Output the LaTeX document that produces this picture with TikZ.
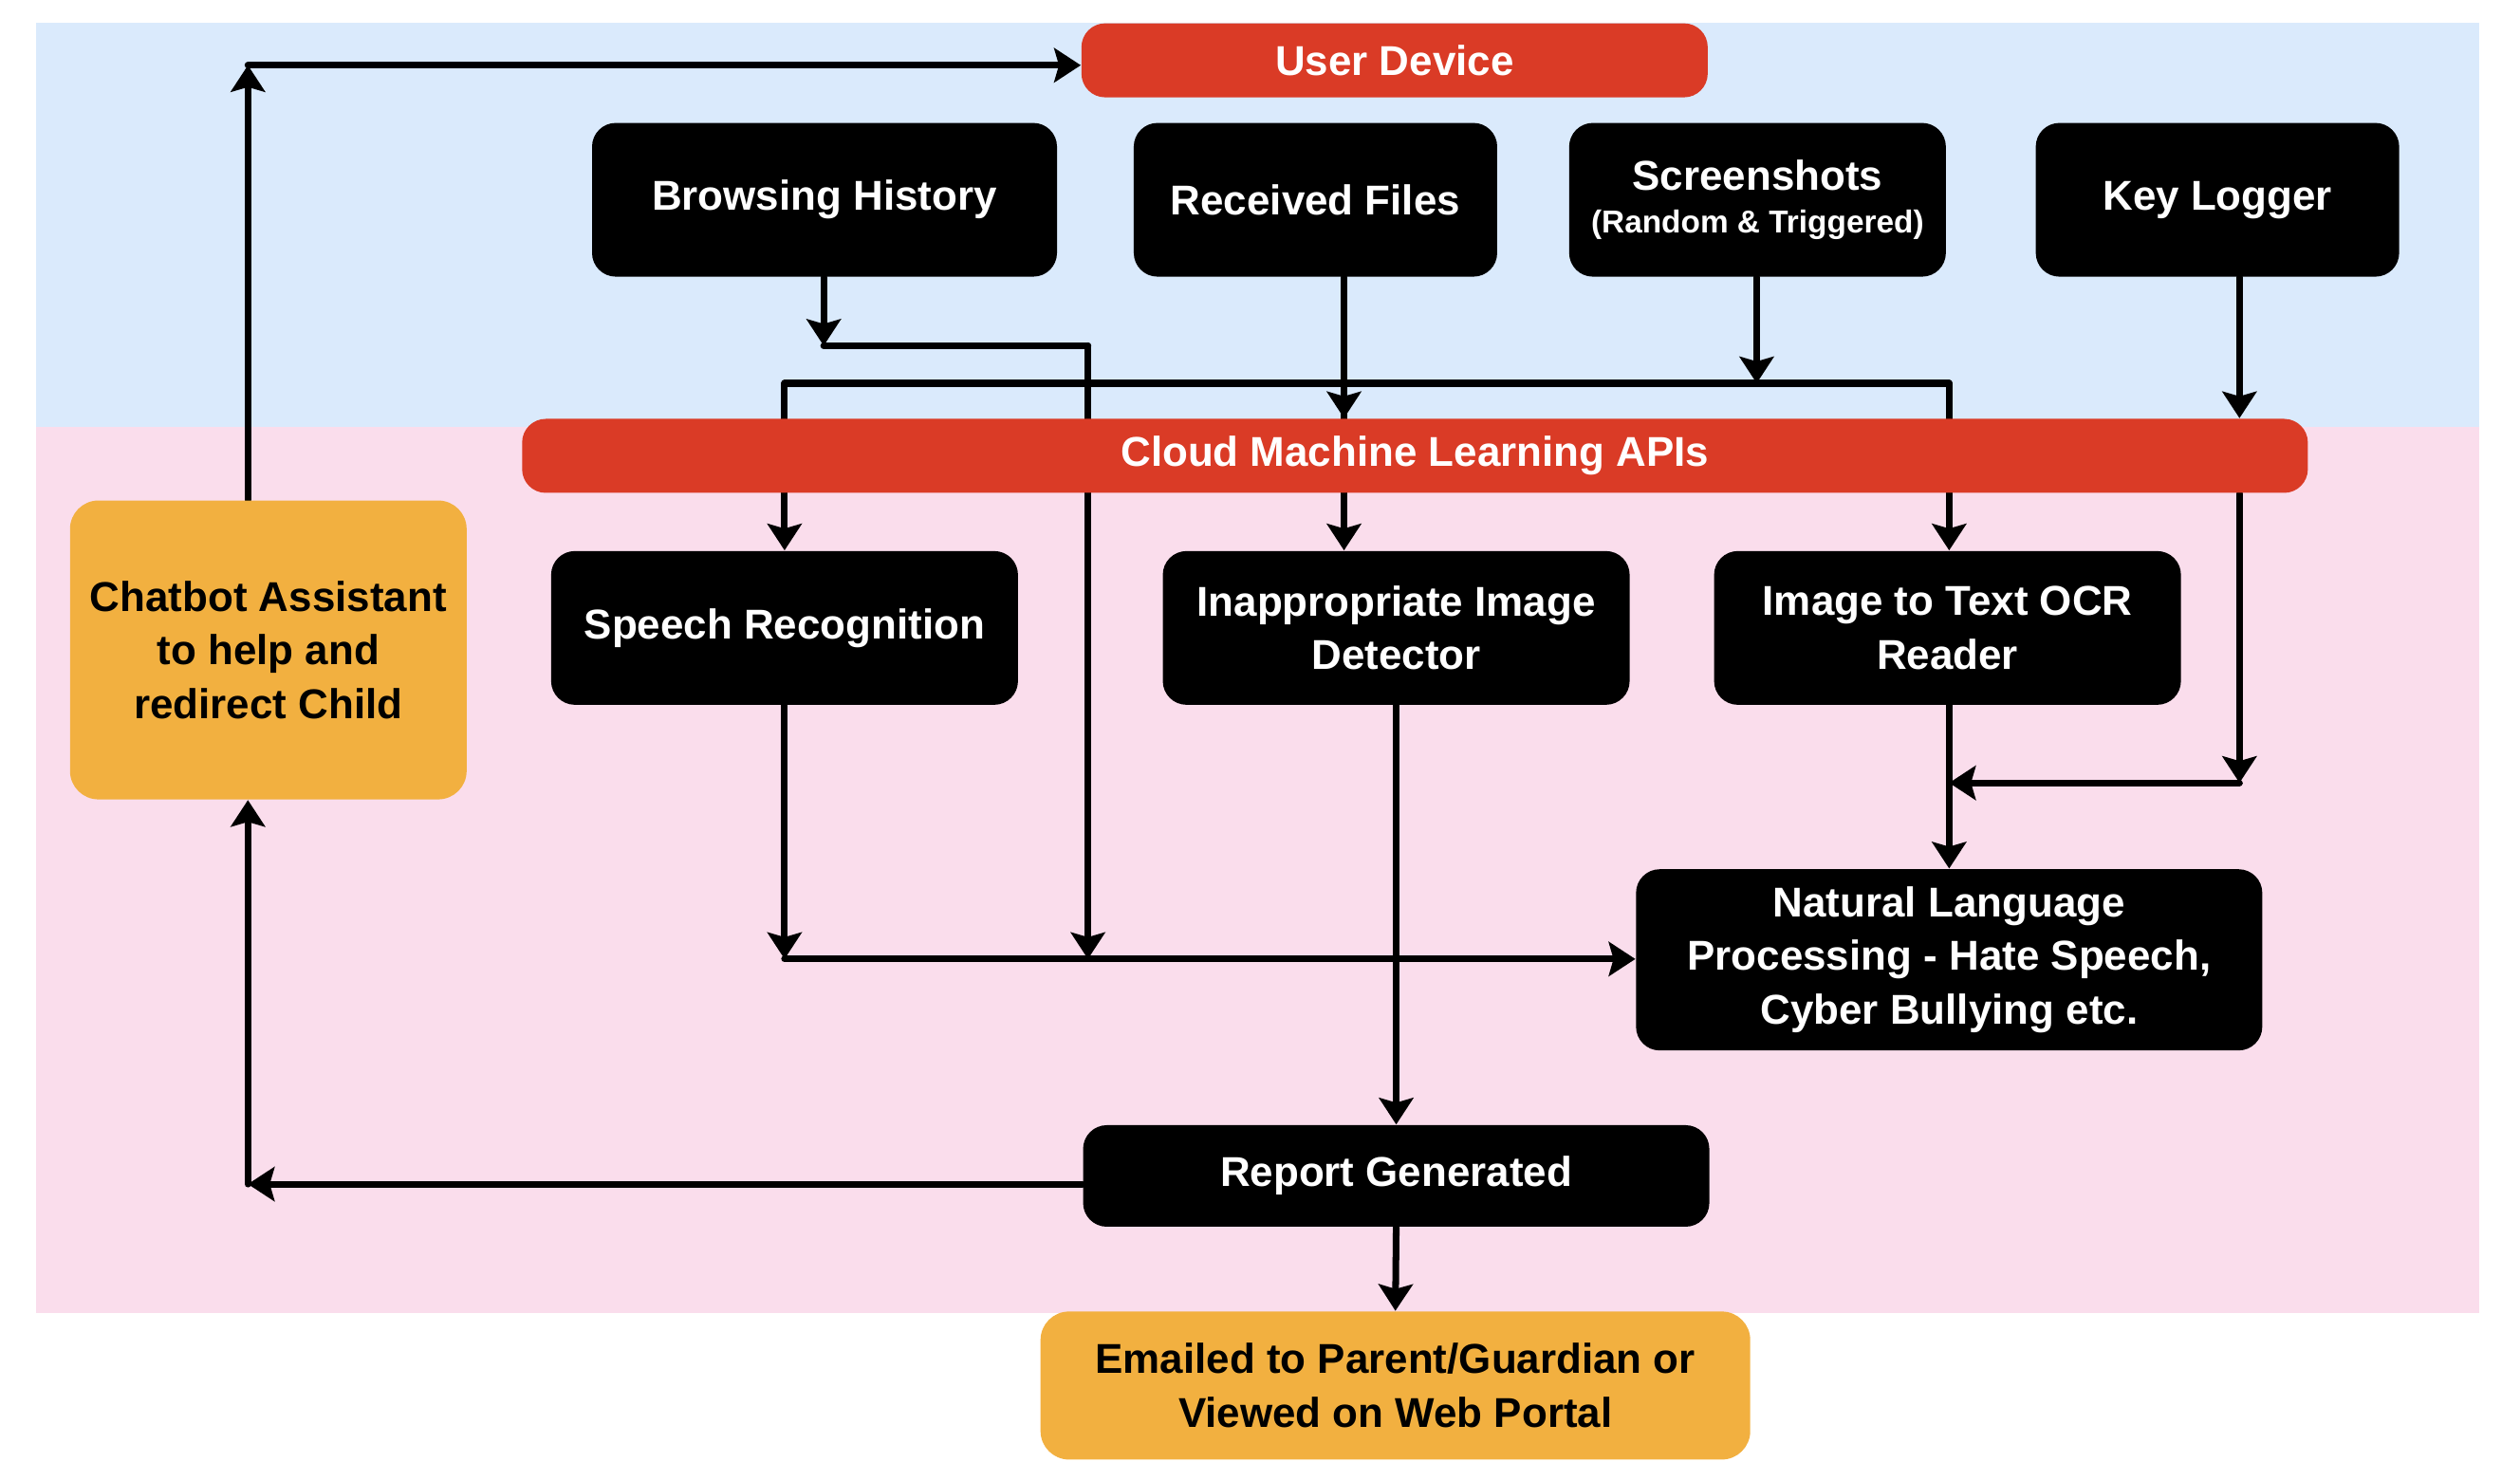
\documentclass[tikz,border=0pt]{standalone}
\usepackage{fontspec}
\setmainfont{Liberation Sans}
\usetikzlibrary{arrows.meta,positioning,calc}
\pgfdeclarelayer{back}
\pgfsetlayers{back,main}
\definecolor{devblue}{RGB}{218,234,252}
\definecolor{apipink}{RGB}{250,221,236}
\definecolor{barred}{RGB}{218,59,38}
\definecolor{noteorange}{RGB}{242,176,64}

\begin{document}
\begin{tikzpicture}[x=0.1719mm, y=-0.1719mm,
  font=\fontsize{12.5}{16}\selectfont\bfseries,
  box/.style={rectangle, rounded corners=2.5mm, fill=black, text=white, align=center, minimum width=4.92cm, minimum height=1.62cm, inner sep=0pt},
  bar/.style={rectangle, rounded corners=2.5mm, fill=barred, text=white, minimum height=0.78cm, inner sep=0pt},
  note/.style={rectangle, rounded corners=3mm, fill=noteorange, text=black, align=center, inner sep=0pt},
  link/.style={line width=2pt, line cap=round, -{Stealth[length=2.8mm,width=3.6mm,inset=0.5mm]}}]
  \useasboundingbox (0,0) rectangle (1545,896);

  \node (UD) [bar, minimum width=6.6cm] at (855,37) {User Device};
  \node (BH) [box, minimum width=4.9cm] at (505.5,122.5) {Browsing History};
  \node (RF) [box, minimum width=3.83cm] at (806.5,122.5) {Received Files};
  \node (SS) [box, minimum width=3.97cm] at (1077.5,122.5) {Screenshots\\[-3pt]{\fontsize{9.5}{11}\selectfont (Random \& Triggered)}};
  \node (KL) [box, minimum width=3.83cm] at (1359.5,122.5) {Key Logger};
  \node (ML) [bar, minimum width=18.82cm] at (867.5,279.5) {Cloud Machine Learning APIs};
  \node (CB) [note, minimum width=4.18cm, minimum height=3.15cm] at (164.5,398.5) {Chatbot Assistant\\to help and\\redirect Child};
  \node (SR) [box] at (481,385) {Speech Recognition};
  \node (ID) [box] at (856,385) {Inappropriate Image\\Detector};
  \node (OCR) [box] at (1194,385) {Image to Text OCR\\Reader};
  \node (NLP) [box, minimum width=6.6cm, minimum height=1.91cm] at (1195,588.5) {Natural Language\\Processing - Hate Speech,\\Cyber Bullying etc.};
  \node (RG) [box, minimum width=6.6cm, minimum height=1.07cm] at (856,721) {Report Generated};
  \node (EM) [note, minimum width=7.48cm, minimum height=1.56cm] at (855.5,849.5) {Emailed to Parent/Guardian or\\Viewed on Web Portal};

  \coordinate (TL) at (152,40);
  \coordinate (HJ) at (505,212);
  \coordinate (HR) at (667,212);
  \coordinate (HB) at (667,588);
  \coordinate (SB) at (481,588);
  \coordinate (BL) at (481,235);
  \coordinate (BM) at (824,235);
  \coordinate (BR) at (1195,235);
  \coordinate (SJ) at (1077,235);
  \coordinate (KJ) at (1373,480);
  \coordinate (OJ) at (1195,480);
  \coordinate (RL) at (152,726);

  \begin{pgfonlayer}{back}
  \fill [devblue] (22,14) rectangle (1520,262);
  \fill [apipink] (22,262) rectangle (1520,805);
  \path [link]
  (TL |- CB.north) edge (TL)
  (TL) edge (TL -| UD.west)
  (HJ |- BH.south) edge (HJ)
  (HJ) edge [-] (HR)
  (HR) edge (HB)
  (SR.south) edge (SB)
  (SB) edge (SB -| NLP.west)
  (BM |- RF.south) edge (BM |- ML.north)
  (SJ |- SS.south) edge (SJ)
  (BL) edge [-] (BR)
  (BL) edge (SR.north)
  (BM) edge (BM |- ID.north)
  (BR) edge (BR |- OCR.north)
  (KJ |- KL.south) edge (KJ |- ML.north)
  (KJ |- ML.south) edge (KJ)
  (KJ) edge (OJ)
  (OJ |- OCR.south) edge (OJ |- NLP.north)
  (ID.south) edge (RG.north)
  (RG.west |- RL) edge (RL)
  (RL) edge (RL |- CB.south)
  (RG.south) edge (EM.north);
  \end{pgfonlayer}
\end{tikzpicture}
\end{document}
